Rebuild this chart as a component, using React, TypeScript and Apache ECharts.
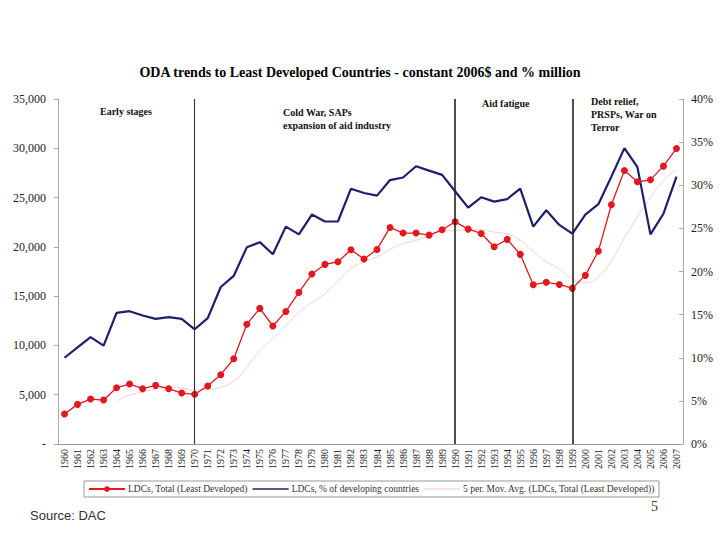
import React, { useEffect, useRef } from "react";
import * as echarts from "echarts";

const years: string[] = [];
for (let y = 1960; y <= 2007; y++) years.push(String(y));

const ldcTotal = [
  3040, 4020, 4560, 4460, 5710, 6080, 5610, 5950, 5610, 5170,
  5040, 5880, 7030, 8650, 12140, 13760, 11970, 13450, 15380, 17240,
  18220, 18490, 19700, 18760, 19740, 21970, 21400, 21400, 21190, 21730,
  22540, 21800, 21360, 20010, 20760, 19240, 16160, 16400, 16190, 15790,
  17110, 19570, 24270, 27750, 26600, 26800, 28190, 29980,
];

const ldcShare = [
  10.0, 11.2, 12.4, 11.4, 15.2, 15.4, 14.9, 14.5, 14.7, 14.5,
  13.3, 14.6, 18.2, 19.5, 22.8, 23.4, 22.0, 25.2, 24.3, 26.6,
  25.8, 25.8, 29.6, 29.1, 28.8, 30.6, 30.9, 32.2, 31.7, 31.2,
  29.3, 27.4, 28.6, 28.1, 28.4, 29.6, 25.2, 27.1, 25.4, 24.4,
  26.6, 27.8, 31.0, 34.3, 32.1, 24.3, 26.7, 31.0,
];

const movAvg = [
  null, null, null, null, 4360, 4970, 5280, 5560, 5790, 5680,
  5480, 5530, 5750, 6350, 7750, 9490, 10710, 11990, 13340, 14360,
  15250, 16560, 17810, 18480, 18980, 19730, 20310, 20650, 21140, 21540,
  21650, 21730, 21720, 21490, 21290, 20630, 19510, 18510, 17750, 16760,
  16330, 17010, 18590, 20900, 23060, 25000, 26720, 27860,
];

const periodLines = ["1970", "1990", "1999"];

const seriesNames = [
  "LDCs, Total (Least Developed)",
  "LDCs, % of developing countries",
  "5 per. Mov. Avg. (LDCs, Total (Least Developed))",
];

const SERIF = "Liberation Serif";
const LINE_ICON = "path://M0,0 L36,0 L36,1.6 L0,1.6 Z";
const THIN_ICON = "path://M0,0 L36,0 L36,1 L0,1 Z";

export default function App() {
  const ref = useRef<HTMLDivElement>(null);
  useEffect(() => {
    if (!ref.current) return;
    const chart = echarts.init(ref.current, null, { renderer: "svg" });
    const annStyle = { fontFamily: SERIF, fontSize: 10, fontWeight: "bold", fill: "#111" };
    chart.setOption({
      animation: false,
      backgroundColor: "#fff",
      textStyle: { fontFamily: SERIF },
      title: {
        text: "ODA trends to Least Developed Countries - constant 2006$ and % million",
        left: "center",
        top: 60,
        textStyle: { fontFamily: SERIF, fontSize: 14, fontWeight: "bold", color: "#000" },
      },
      grid: { left: 58, right: 37, top: 99, bottom: 96, containLabel: false },
      legend: {
        data: [
          { name: seriesNames[0] },
          { name: seriesNames[1], icon: LINE_ICON },
          { name: seriesNames[2], icon: THIN_ICON },
        ],
        top: 481,
        left: 84,
        width: 680,
        itemGap: 5,
        itemWidth: 36,
        itemHeight: 7,
        padding: [3, 4],
        borderColor: "#999",
        borderWidth: 1,
        textStyle: { fontFamily: SERIF, fontSize: 9.5, color: "#333", padding: [0, 0, 0, -2] },
      },
      xAxis: {
        type: "category",
        data: years,
        boundaryGap: true,
        axisLine: { lineStyle: { color: "#999" } },
        axisTick: { alignWithLabel: false, lineStyle: { color: "#999" }, length: 4 },
        axisLabel: {
          rotate: 90,
          interval: 0,
          fontFamily: SERIF,
          fontSize: 10,
          color: "#222",
          margin: 5,
        },
      },
      yAxis: [
        {
          type: "value",
          min: 0,
          max: 35000,
          interval: 5000,
          splitLine: { show: false },
          axisLine: { show: true, lineStyle: { color: "#aaa" } },
          axisTick: { show: true, length: 4, lineStyle: { color: "#aaa" } },
          axisLabel: {
            fontFamily: SERIF,
            fontSize: 12,
            color: "#222",
            margin: 12,
            formatter: (v: number) => (v === 0 ? "-" : v.toLocaleString("en-US")),
          },
        },
        {
          type: "value",
          min: 0,
          max: 40,
          interval: 5,
          position: "right",
          splitLine: { show: false },
          axisLine: { show: true, lineStyle: { color: "#aaa" } },
          axisTick: { show: true, inside: true, length: 4, lineStyle: { color: "#aaa" } },
          axisLabel: {
            fontFamily: SERIF,
            fontSize: 12,
            color: "#222",
            margin: 8,
            formatter: (v: number) => v + "%",
          },
        },
      ],
      series: [
        {
          name: seriesNames[0],
          type: "line",
          data: ldcTotal,
          yAxisIndex: 0,
          symbol: "circle",
          symbolSize: 7,
          lineStyle: { color: "#e3171e", width: 1.3 },
          itemStyle: { color: "#e3171e" },
          z: 4,
          markLine: {
            silent: true,
            symbol: "none",
            label: { show: false },
            lineStyle: { color: "#222", width: 1.6, type: "solid" },
            data: periodLines.map((p, i) =>
              i === 0 ? { xAxis: p, lineStyle: { width: 1.1, color: "#333" } } : { xAxis: p }
            ),
          },
        },
        {
          name: seriesNames[1],
          type: "line",
          data: ldcShare,
          yAxisIndex: 1,
          symbol: "none",
          lineStyle: { color: "#1c1f6b", width: 2.2 },
          itemStyle: { color: "#1c1f6b" },
          z: 3,
        },
        {
          name: seriesNames[2],
          type: "line",
          data: movAvg,
          yAxisIndex: 0,
          symbol: "none",
          smooth: true,
          lineStyle: { color: "#f5cfcf", width: 1 },
          itemStyle: { color: "#f2c4c4" },
          z: 2,
        },
      ],
      graphic: [
        { type: "text", left: 100, top: 106, style: { ...annStyle, text: "Early stages" } },
        {
          type: "text",
          left: 283,
          top: 106,
          style: { ...annStyle, text: "Cold War, SAPs\nexpansion of aid industry", lineHeight: 13 },
        },
        { type: "text", left: 482, top: 98, style: { ...annStyle, text: "Aid fatigue" } },
        {
          type: "text",
          left: 591,
          top: 95,
          style: { ...annStyle, text: "Debt relief,\nPRSPs, War on\nTerror", lineHeight: 13 },
        },
        {
          type: "text",
          left: 30,
          top: 509,
          style: { text: "Source: DAC", fontFamily: "Liberation Sans", fontSize: 13, fill: "#333" },
        },
        {
          type: "text",
          left: 651,
          top: 499,
          style: { text: "5", fontFamily: SERIF, fontSize: 14, fill: "#333" },
        },
      ],
    });
    return () => chart.dispose();
  }, []);
  return <div ref={ref} style={{ width: 720, height: 540, position: "absolute", left: 0, top: 0 }} />;
}
